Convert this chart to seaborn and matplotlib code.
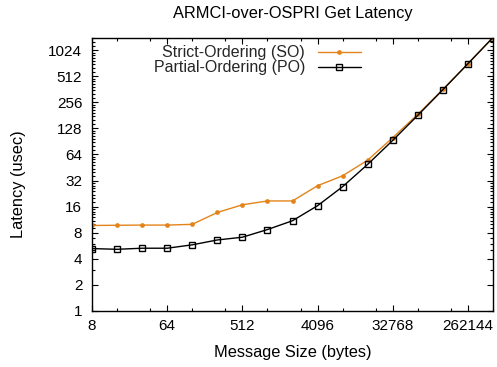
import matplotlib
matplotlib.use("Agg")
import matplotlib.pyplot as plt
import seaborn as sns
import pandas as pd
import numpy as np
from matplotlib.ticker import FixedLocator, NullFormatter, FixedFormatter

sizes = [8, 16, 32, 64, 128, 256, 512, 1024, 2048, 4096, 8192, 16384,
         32768, 65536, 131072, 262144, 524288]
so_lat = [9.7, 9.75, 9.8, 9.8, 10.0, 13.7, 16.8, 18.6, 18.6, 27.9, 36.3,
          55.0, 100.0, 186.0, 360.0, 713.0, 1430.0]
po_lat = [5.25, 5.15, 5.3, 5.3, 5.8, 6.6, 7.1, 8.7, 11.0, 16.4, 27.2,
          49.2, 93.0, 181.0, 357.0, 713.0, 1430.0]
x_ticks = [8, 64, 512, 4096, 32768, 262144]
y_ticks = [1, 2, 4, 8, 16, 32, 64, 128, 256, 512, 1024]

sns.set_theme(style="white")
plt.rcParams['font.family'] = ['Liberation Sans', 'DejaVu Sans']
plt.rcParams['font.size'] = 11

fig = plt.figure(figsize=(4.97, 3.67), dpi=100)
ax = fig.add_axes([92/497, 56/367, 401/497, 273.5/367])

so_df = pd.DataFrame({"size": sizes, "lat": so_lat})
po_df = pd.DataFrame({"size": sizes, "lat": po_lat})

sns.lineplot(data=so_df, x="size", y="lat", ax=ax, color="#e3841a", lw=1.0,
             marker="o", markersize=3.4, markeredgewidth=0,
             label="Strict-Ordering (SO)")
sns.lineplot(data=po_df, x="size", y="lat", ax=ax, color="black", lw=1.0,
             marker="s", markersize=4.0, markerfacecolor="none",
             markeredgecolor="black", markeredgewidth=1.0,
             label="Partial-Ordering (PO)")

ax.set_xscale("log", base=2)
ax.set_yscale("log", base=2)
ax.set_xlim(8, 524288)
ax.set_ylim(1, 1430)

ax.xaxis.set_major_locator(FixedLocator(x_ticks))
ax.xaxis.set_major_formatter(FixedFormatter([str(v) for v in x_ticks]))
xminor = []
for m in [8, 64, 512, 4096, 32768, 262144]:
    xminor += [2 * m, 5 * m]
ax.xaxis.set_minor_locator(FixedLocator(xminor))
ax.xaxis.set_minor_formatter(NullFormatter())

ax.yaxis.set_major_locator(FixedLocator(y_ticks))
ax.yaxis.set_major_formatter(FixedFormatter([str(v) for v in y_ticks]))
yminor = []
for n in range(0, 11):
    base = 2 ** n
    step = max(1, base / 8)
    v = base + step
    while v < 2 * base - 1e-9:
        yminor.append(v)
        v += step
ax.yaxis.set_minor_locator(FixedLocator(yminor))
ax.yaxis.set_minor_formatter(NullFormatter())

ax.tick_params(which="both", direction="in", top=True, right=True,
               bottom=True, left=True, color="black", labelsize=11,
               labelcolor="black", width=0.8)
ax.tick_params(which="major", length=4.5)
ax.tick_params(axis="x", which="major", pad=6)
ax.tick_params(axis="y", which="major", pad=7)
ax.tick_params(which="minor", length=2.5)
for s in ax.spines.values():
    s.set_color("black")
    s.set_linewidth(1.0)

ax.set_xlabel("Message Size (bytes)", fontsize=11.8, color="black")
ax.xaxis.set_label_coords(0.5, -0.125)
ax.set_ylabel("Latency (usec)", fontsize=11.8, color="black")
ax.yaxis.set_label_coords(-0.165, 0.464)
ax.set_title("ARMCI-over-OSPRI Get Latency", fontsize=11.8, color="black", pad=14)

leg = ax.legend(loc="upper left", bbox_to_anchor=(0.13, 1.006), frameon=False,
                markerfirst=False, fontsize=11.5, handlelength=2.7,
                handletextpad=0.8, labelspacing=0.0, borderaxespad=0.2)

fig.savefig("out.png", dpi=100)
